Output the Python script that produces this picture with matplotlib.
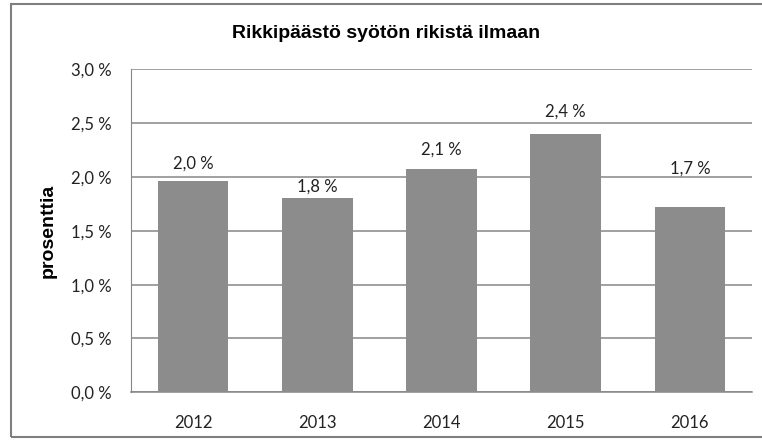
import matplotlib
matplotlib.use("Agg")
import matplotlib.pyplot as plt
from matplotlib.patches import Rectangle
from matplotlib.ticker import FuncFormatter

years = ["2012", "2013", "2014", "2015", "2016"]
values = [1.96, 1.80, 2.07, 2.40, 1.72]
value_labels = ["2,0 %", "1,8 %", "2,1 %", "2,4 %", "1,7 %"]
yticks = [0.0, 0.5, 1.0, 1.5, 2.0, 2.5, 3.0]

# label offsets above each bar, in points (as placed in the original)
label_offsets = [13, 8.6, 14.4, 15.8, 28]

fig = plt.figure(figsize=(7.62, 4.40), dpi=100)
fig.patch.set_facecolor("white")

# outer chart frame
fig.patches.append(Rectangle((11 / 762, 1 - 437 / 440), 1.0, (437 - 4) / 440,
                             transform=fig.transFigure, fill=False,
                             edgecolor="#7f7f7f", linewidth=1.5))

ax = fig.add_axes([131 / 762, 1 - 392.3 / 440, (752 - 131) / 762, (392.3 - 69.3) / 440])

x = range(len(years))
ax.bar(x, values, width=0.57, color="#8c8c8c", zorder=3)

for i, (v, lab) in enumerate(zip(values, value_labels)):
    ax.annotate(lab, (i, v), xytext=(0, label_offsets[i]), textcoords="offset points",
                ha="center", va="center", fontsize=12, family="Lato", color="#222222")

ax.set_xlim(-0.5, len(years) - 0.5)
ax.set_ylim(0, 3.0)
ax.set_yticks(yticks)
ax.yaxis.set_major_formatter(FuncFormatter(lambda v, p: f"{v:.1f} %".replace(".", ",")))
ax.set_xticks(list(x))
ax.set_xticklabels(years)
ax.grid(axis="y", color="#868686", linewidth=1.1, zorder=0)
for lab in ax.get_xticklabels() + ax.get_yticklabels():
    lab.set_family("Lato")
    lab.set_fontsize(12)
    lab.set_color("#222222")
ax.tick_params(axis="both", length=0)
ax.tick_params(axis="y", pad=14)
ax.tick_params(axis="x", pad=16)

for s in ["top", "right"]:
    ax.spines[s].set_visible(False)
ax.spines["left"].set_color("#868686")
ax.spines["bottom"].set_color("#868686")
ax.spines["bottom"].set_linewidth(1.1)

ax.set_ylabel("prosenttia", fontsize=14, fontweight="bold", family="Liberation Sans",
              labelpad=10)
fig.text(386 / 762, 1 - 33 / 440, "Rikkipäästö syötön rikistä ilmaan", ha="center",
         va="center", fontsize=14, fontweight="bold", family="Liberation Sans")

fig.savefig("out.png", dpi=100)
